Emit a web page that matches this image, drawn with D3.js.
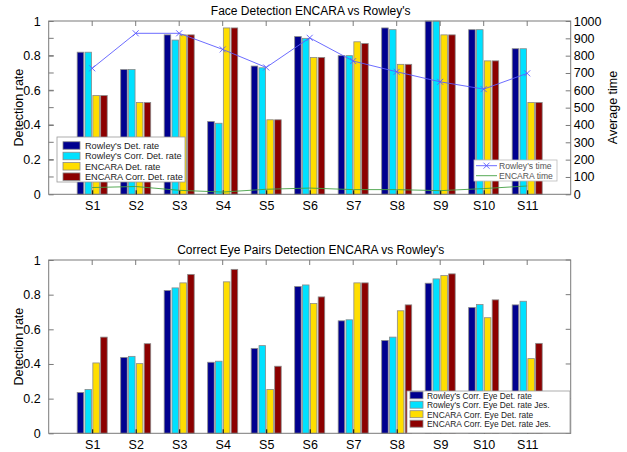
<!DOCTYPE html>
<html><head><meta charset="utf-8">
<script src="https://cdn.jsdelivr.net/npm/d3@7"></script>
<style>body{margin:0;background:#fff}svg{display:block;font-family:"Liberation Sans",Arial,sans-serif}</style>
</head><body><svg id="c" width="627" height="452"></svg>
<script>
const categories = ["S1","S2","S3","S4","S5","S6","S7","S8","S9","S10","S11"];
const rowleyDet  = [0.82,0.72,0.92,0.42,0.74,0.91,0.80,0.96,1.00,0.95,0.84];
const rowleyCorr = [0.82,0.72,0.89,0.41,0.73,0.90,0.80,0.95,1.00,0.95,0.84];
const encaraDet  = [0.57,0.53,0.92,0.96,0.43,0.79,0.88,0.75,0.92,0.77,0.53];
const encaraCorr = [0.57,0.53,0.92,0.96,0.43,0.79,0.87,0.75,0.92,0.77,0.53];
const rowleyTime = [727,929,929,836,732,903,769,707,649,607,698];
const encaraTime = [39,45,23,13,29,36,27,27,21,33,48];
const rowleyEye    = [0.236,0.438,0.824,0.410,0.490,0.847,0.649,0.536,0.866,0.726,0.741];
const rowleyEyeJes = [0.253,0.444,0.839,0.416,0.506,0.856,0.655,0.555,0.891,0.743,0.762];
const encaraEye    = [0.406,0.402,0.868,0.874,0.253,0.749,0.868,0.707,0.910,0.667,0.431];
const encaraEyeJes = [0.555,0.517,0.917,0.946,0.387,0.787,0.868,0.741,0.920,0.770,0.519];
const leftTicks = [0,0.2,0.4,0.6,0.8,1];
const rightTicks = [0,100,200,300,400,500,600,700,800,900,1000];
const topLegend = ["Rowley's Det. rate","Rowley's Corr. Det. rate","ENCARA Det. rate","ENCARA Corr. Det. rate"];
const timeLegend = ["Rowley's time","ENCARA time"];
const botLegend = ["Rowley's Corr. Eye Det. rate","Rowley's Corr. Eye Det. rate Jes.","ENCARA Corr. Eye Det. rate","ENCARA Corr. Eye Det. rate Jes."];
const colors = ["#00008f","#00e1ff","#ffde00","#8c0000"];
const blueLine = "#5b5bff", greenLine = "#44a044";

const svg = d3.select("#c");
const X0 = 48.7, X1 = 570.7;
const x = d3.scaleLinear().domain([0,12]).range([X0,X1]);
const offs = [-0.27,-0.09,0.09,0.27], bw = 0.15;
const frameCol = "#7a7a7a";
const FF = "Liberation Sans, Arial, sans-serif";

function fitFont(sel, targetW, base) {
  let maxW = 0;
  sel.each(function(){ maxW = Math.max(maxW, this.getComputedTextLength()); });
  if (maxW > 0) sel.attr("font-size", base * targetW / maxW);
}

function panel(top, bottom, series, title, minorTicks, rightTickMarks) {
  const y = d3.scaleLinear().domain([0,1]).range([bottom, top]);
  const g = svg.append("g");
  g.append("rect").attr("x",X0).attr("y",top).attr("width",X1-X0).attr("height",bottom-top).attr("fill","#fff");
  series.forEach((s,si)=>{
    g.selectAll(null).data(s).enter().append("rect")
      .attr("x",(d,i)=>x(i+1+offs[si]-bw/2))
      .attr("width",x(bw)-x(0))
      .attr("y",d=>y(d)).attr("height",d=>bottom-y(d))
      .attr("fill",colors[si]).attr("stroke","#8a8a8a").attr("stroke-width",0.8);
  });
  g.append("rect").attr("x",X0).attr("y",top).attr("width",X1-X0).attr("height",bottom-top)
    .attr("fill","none").attr("stroke",frameCol).attr("stroke-width",1);
  const la = d3.axisLeft(y).tickValues(leftTicks).tickFormat(d=>d===0||d===1?String(d):d3.format(".1f")(d)).tickSize(-5).tickPadding(8);
  const lg = g.append("g").attr("transform",`translate(${X0},0)`).call(la);
  lg.select(".domain").remove();
  lg.selectAll("line").attr("stroke",frameCol);
  lg.selectAll("text").attr("font-size",12.5).attr("fill","#000").attr("font-family",FF);
  if (minorTicks) {
    g.selectAll(null).data(d3.range(1,10).map(v=>v/10)).enter().append("line")
      .attr("x1",X0).attr("x2",X0+5).attr("y1",d=>y(d)).attr("y2",d=>y(d)).attr("stroke",frameCol);
  }
  if (rightTickMarks) {
    g.selectAll(null).data(leftTicks).enter().append("line")
      .attr("x1",X1).attr("x2",X1-5).attr("y1",d=>y(d)).attr("y2",d=>y(d)).attr("stroke",frameCol);
  }
  const xa = d3.axisBottom(x).tickValues(d3.range(1,12)).tickFormat(d=>categories[d-1]).tickSize(-4).tickPadding(7);
  const xg = g.append("g").attr("transform",`translate(0,${bottom})`).call(xa);
  xg.select(".domain").remove();
  xg.selectAll("line").attr("stroke","#000");
  xg.selectAll("text").attr("font-size",12.5).attr("fill","#000").attr("font-family",FF);
  g.selectAll(null).data(d3.range(1,12)).enter().append("line")
    .attr("x1",d=>x(d)).attr("x2",d=>x(d)).attr("y1",top).attr("y2",top+5).attr("stroke",frameCol);
  g.append("text").attr("x",(X0+X1)/2+1).attr("y",top-6).attr("text-anchor","middle").attr("font-size",12).text(title);
  g.append("text").attr("transform",`translate(23,${(top+bottom)/2}) rotate(-90)`).attr("text-anchor","middle").attr("font-size",12.5).text("Detection rate");
  return {g,y};
}

// Top panel
panel(21, 194.3, [rowleyDet,rowleyCorr,encaraDet,encaraCorr], "Face Detection ENCARA vs Rowley's", true, false);
const yT = d3.scaleLinear().domain([0,1000]).range([194.3,21]);
const ra = d3.axisRight(yT).tickValues(rightTicks).tickFormat(d3.format("d")).tickSize(-5).tickPadding(3);
const rg = svg.append("g").attr("transform",`translate(${X1},0)`).call(ra);
rg.select(".domain").remove();
rg.selectAll("line").attr("stroke",frameCol);
rg.selectAll("text").attr("font-size",12.5).attr("fill","#000").attr("font-family",FF);
svg.append("text").attr("transform",`translate(617,${(21+194)/2}) rotate(-90)`).attr("text-anchor","middle").attr("font-size",12.5).text("Average time");

const line = d3.line().x((d,i)=>x(i+1)).y(d=>yT(d));
svg.append("path").attr("d",line(rowleyTime)).attr("fill","none").attr("stroke",blueLine).attr("stroke-width",0.9);
svg.selectAll(null).data(rowleyTime).enter().append("path")
  .attr("d",(d,i)=>{const cx=x(i+1),cy=yT(d),r=3;return `M${cx-r},${cy-r}L${cx+r},${cy+r}M${cx-r},${cy+r}L${cx+r},${cy-r}`;})
  .attr("stroke",blueLine).attr("stroke-width",0.9);
svg.append("path").attr("d",line(encaraTime)).attr("fill","none").attr("stroke",greenLine).attr("stroke-width",0.9);

function legend(x0,y0,w,h,labels,rowY,targetW,sw,tx) {
  const lg = svg.append("g");
  lg.append("rect").attr("x",x0).attr("y",y0).attr("width",w).attr("height",h).attr("fill","#fff").attr("stroke","#9a9a9a").attr("stroke-width",0.8);
  const texts = [];
  labels.forEach((l,i)=>{
    const cy = rowY[i];
    lg.append("rect").attr("x",sw[0]).attr("y",cy-sw[2]/2).attr("width",sw[1]-sw[0]).attr("height",sw[2]).attr("fill",colors[i]).attr("stroke","#8a8a8a").attr("stroke-width",0.8);
    lg.append("text").attr("class","lt").attr("x",tx).attr("y",cy+3.3).attr("font-size",10).attr("fill","#222").text(l);
  });
  fitFont(lg.selectAll("text.lt"), targetW, 10);
  return lg;
}
legend(57,137,128,45,topLegend,[145.5,156,166.3,176.7],98,[63,80,7.5],85);

// time legend
const tl = svg.append("g");
tl.append("rect").attr("x",474).attr("y",160).attr("width",83).attr("height",21).attr("fill","#fff").attr("stroke","#bbb").attr("stroke-width",0.8);
[[blueLine,true],[greenLine,false]].forEach(([c,mk],i)=>{
  const cy = 165.7 + i*10;
  tl.append("line").attr("x1",476).attr("x2",497).attr("y1",cy).attr("y2",cy).attr("stroke",c).attr("stroke-width",0.9);
  if (mk) tl.append("path").attr("d",`M${486.5-3},${cy-3}L${486.5+3},${cy+3}M${486.5-3},${cy+3}L${486.5+3},${cy-3}`).attr("stroke",c).attr("stroke-width",0.9);
  tl.append("text").attr("class","lt").attr("x",499).attr("y",cy+3.2).attr("font-size",10).attr("fill","#555").text(timeLegend[i]);
});
fitFont(tl.selectAll("text.lt"), 54, 10);

// Bottom panel
panel(260, 433.3, [rowleyEye,rowleyEyeJes,encaraEye,encaraEyeJes], "Correct Eye Pairs Detection ENCARA vs Rowley's", false, true);
legend(407,391,163,42,botLegend,[395.3,404.7,414.2,423.7],124,[410,423,7],427);
</script></body></html>
